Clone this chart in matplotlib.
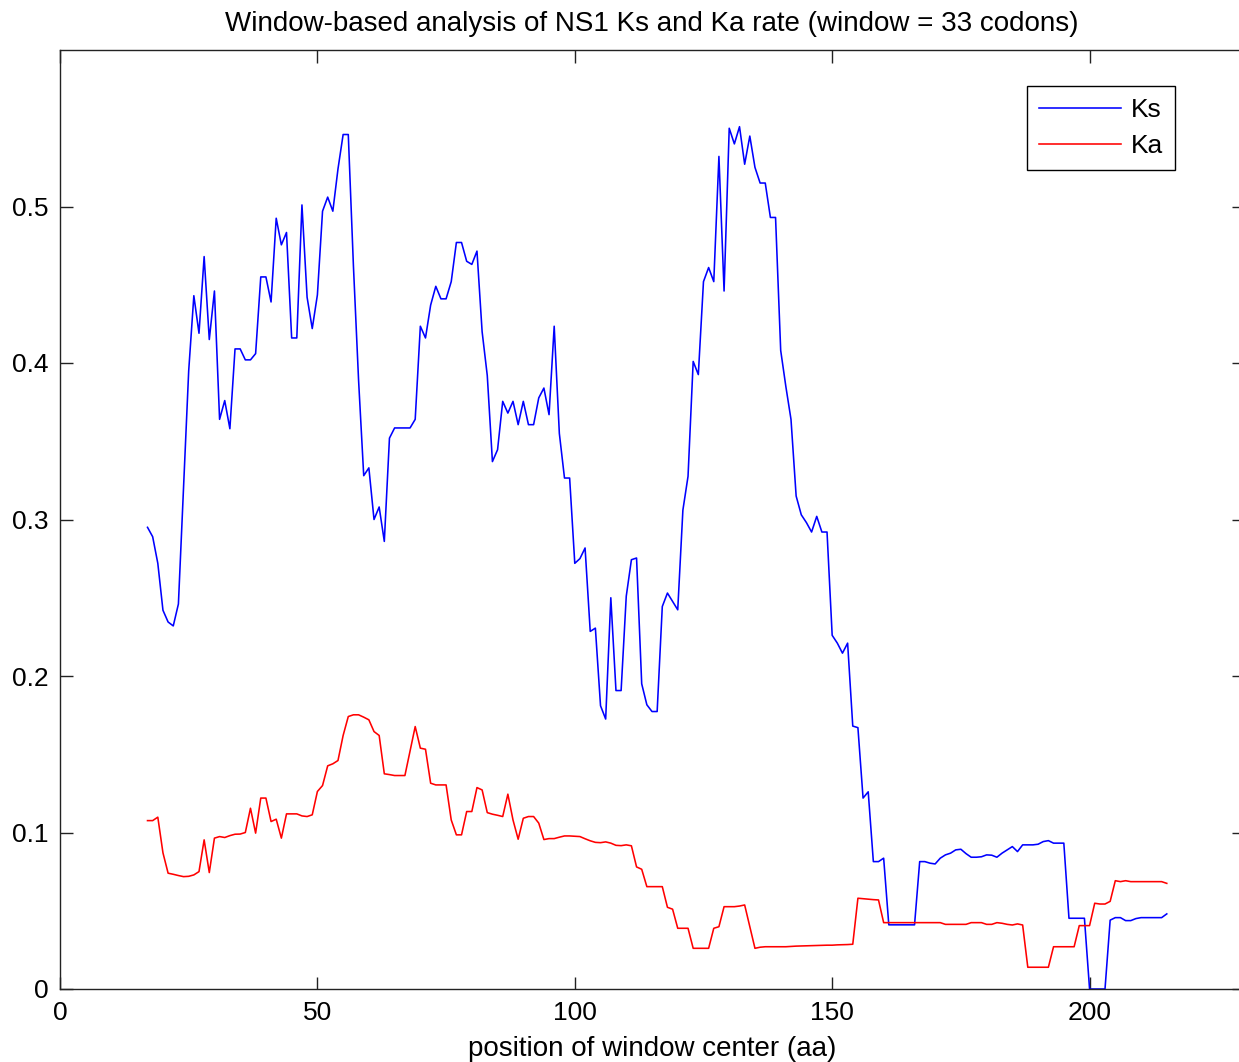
import numpy as np
import matplotlib
matplotlib.use("Agg")
from matplotlib import pyplot as plt

plt.rcParams['font.family'] = ['Liberation Sans', 'DejaVu Sans']

# window centre positions (aa)
pos = np.arange(17, 216)

ks = [0.295, 0.289, 0.272, 0.242, 0.2345, 0.232, 0.246, 0.321, 0.395, 0.443,
      0.419, 0.468, 0.415, 0.446, 0.364, 0.376, 0.358, 0.409, 0.409, 0.402,
      0.402, 0.406, 0.455, 0.455, 0.439, 0.4925, 0.4755, 0.4834, 0.416, 0.416,
      0.501, 0.442, 0.422, 0.4435, 0.497, 0.506, 0.497, 0.524, 0.546, 0.546,
      0.462, 0.389, 0.328, 0.333, 0.300, 0.308, 0.286, 0.352, 0.3585, 0.3585,
      0.3585, 0.3585, 0.364, 0.4235, 0.416, 0.437, 0.449, 0.441, 0.441, 0.452,
      0.477, 0.477, 0.465, 0.463, 0.4715, 0.420, 0.392, 0.337, 0.3446, 0.3755,
      0.368, 0.3755, 0.3606, 0.3755, 0.3606, 0.3606, 0.3777, 0.384, 0.367, 0.4235,
      0.355, 0.3265, 0.3265, 0.272, 0.275, 0.2818, 0.2285, 0.2306, 0.181, 0.1725,
      0.250, 0.1907, 0.1907, 0.251, 0.2743, 0.2754, 0.195, 0.1816, 0.1773, 0.1773,
      0.2444, 0.253, 0.2476, 0.2423, 0.306, 0.3276, 0.401, 0.3926, 0.452, 0.461,
      0.452, 0.532, 0.446, 0.550, 0.540, 0.551, 0.527, 0.545, 0.525, 0.515,
      0.515, 0.493, 0.493, 0.408, 0.385, 0.364, 0.315, 0.303, 0.298, 0.292,
      0.302, 0.292, 0.292, 0.226, 0.221, 0.2146, 0.221, 0.168, 0.167, 0.122,
      0.126, 0.0814, 0.0814, 0.0836, 0.041, 0.041, 0.041, 0.041, 0.041, 0.041,
      0.0814, 0.0814, 0.0804, 0.0799, 0.0836, 0.0857, 0.0868, 0.0889, 0.0893, 0.0865,
      0.0842, 0.0842, 0.0845, 0.0857, 0.0855, 0.0842, 0.0868, 0.0889, 0.091, 0.0878,
      0.0921, 0.0921, 0.0921, 0.0925, 0.0942, 0.0948, 0.0932, 0.0932, 0.0932, 0.0452,
      0.0452, 0.0452, 0.0452, 0.0, 0.0, 0.0, 0.0, 0.044, 0.0456, 0.0456,
      0.0437, 0.0437, 0.045, 0.0456, 0.0456, 0.0456, 0.0456, 0.0456, 0.048]

ka = [0.1076, 0.1076, 0.1098, 0.087, 0.074, 0.0733, 0.0725, 0.0718, 0.072, 0.0729,
      0.075, 0.0953, 0.0744, 0.0964, 0.0974, 0.0968, 0.098, 0.0989, 0.099, 0.100,
      0.1155, 0.0996, 0.122, 0.122, 0.107, 0.1085, 0.0964, 0.1119, 0.1119, 0.1119,
      0.1106, 0.1102, 0.1113, 0.1262, 0.130, 0.1426, 0.1439, 0.146, 0.162, 0.1741,
      0.1752, 0.1752, 0.1737, 0.172, 0.1645, 0.162, 0.1375, 0.137, 0.1364, 0.1364,
      0.1364, 0.152, 0.1677, 0.1539, 0.1532, 0.1315, 0.1304, 0.1304, 0.1304, 0.108,
      0.0985, 0.0985, 0.1134, 0.1134, 0.1287, 0.1272, 0.1127, 0.1117, 0.111, 0.1102,
      0.1245, 0.108, 0.0957, 0.1091, 0.1102, 0.1102, 0.106, 0.0955, 0.0961, 0.0961,
      0.097, 0.0978, 0.0978, 0.0976, 0.0974, 0.096, 0.0947, 0.0937, 0.0935, 0.094,
      0.0932, 0.0918, 0.0916, 0.0921, 0.0915, 0.078, 0.0765, 0.0654, 0.0654, 0.0654,
      0.0654, 0.0522, 0.051, 0.0388, 0.0388, 0.0388, 0.026, 0.026, 0.026, 0.026,
      0.0388, 0.0398, 0.0526, 0.0526, 0.0526, 0.053, 0.0537, 0.040, 0.026, 0.0267,
      0.027, 0.027, 0.027, 0.027, 0.027, 0.0272, 0.0274, 0.0275, 0.0276, 0.0277,
      0.0278, 0.0279, 0.028, 0.028, 0.0282, 0.0283, 0.0284, 0.0286, 0.058, 0.0577,
      0.0574, 0.0571, 0.0569, 0.0424, 0.0424, 0.0424, 0.0424, 0.0424, 0.0424, 0.0424,
      0.0424, 0.0424, 0.0424, 0.0424, 0.0424, 0.0413, 0.0413, 0.0413, 0.0413, 0.0413,
      0.0424, 0.0424, 0.0424, 0.0413, 0.0413, 0.0424, 0.042, 0.0413, 0.0409, 0.0416,
      0.0409, 0.0139, 0.0139, 0.0139, 0.0139, 0.0139, 0.027, 0.027, 0.027, 0.027,
      0.027, 0.0405, 0.0405, 0.0405, 0.0548, 0.0543, 0.0543, 0.056, 0.0692, 0.0686,
      0.0692, 0.0686, 0.0686, 0.0686, 0.0686, 0.0686, 0.0686, 0.0686, 0.0675]

xticks = [0, 50, 100, 150, 200]
yticks = [0, 0.1, 0.2, 0.3, 0.4, 0.5]

W, H = 1239, 1062
fig = plt.figure(figsize=(W / 100, H / 100), dpi=100)
# axes box: x=0 at 60px, bottom at 989px, top at 50px (right edge runs off the picture)
ax = fig.add_axes([60 / W, (H - 989) / H, 1184 / W, 939 / H])

ax.plot(pos, ks, color='#0000ff', lw=1.15, label='Ks', clip_on=False)
ax.plot(pos, ka, color='#ff0000', lw=1.15, label='Ka', clip_on=False)

ax.set_xlim(0, 230)
ax.set_ylim(0, 0.6)
ax.set_xticks(xticks)
ax.set_yticks(yticks)
ax.set_xticklabels([str(t) for t in xticks])
ax.set_yticklabels(['0', '0.1', '0.2', '0.3', '0.4', '0.5'])
ax.tick_params(direction='in', length=9, width=1, top=True, right=True,
               labelsize=19, colors='#222222', labelcolor='black')
ax.tick_params(axis='x', pad=9)
ax.tick_params(axis='y', pad=8)
for s in ax.spines.values():
    s.set_color('#222222')
    s.set_linewidth(1.0)

ax.set_title('Window-based analysis of NS1 Ks and Ka rate (window = 33 codons)',
             fontsize=20, pad=14)
ax.set_xlabel('position of window center (aa)', fontsize=20, labelpad=7.5)

leg = ax.legend(loc='upper left', bbox_to_anchor=(1027 / W, 1 - 86 / H),
                bbox_transform=fig.transFigure, borderaxespad=0,
                fontsize=19, handlelength=3.1, handletextpad=0.4,
                labelspacing=0.47, borderpad=0.45, fancybox=False,
                framealpha=1, edgecolor='black')
leg.get_frame().set_linewidth(1.0)

fig.savefig('out.png', dpi=100)
